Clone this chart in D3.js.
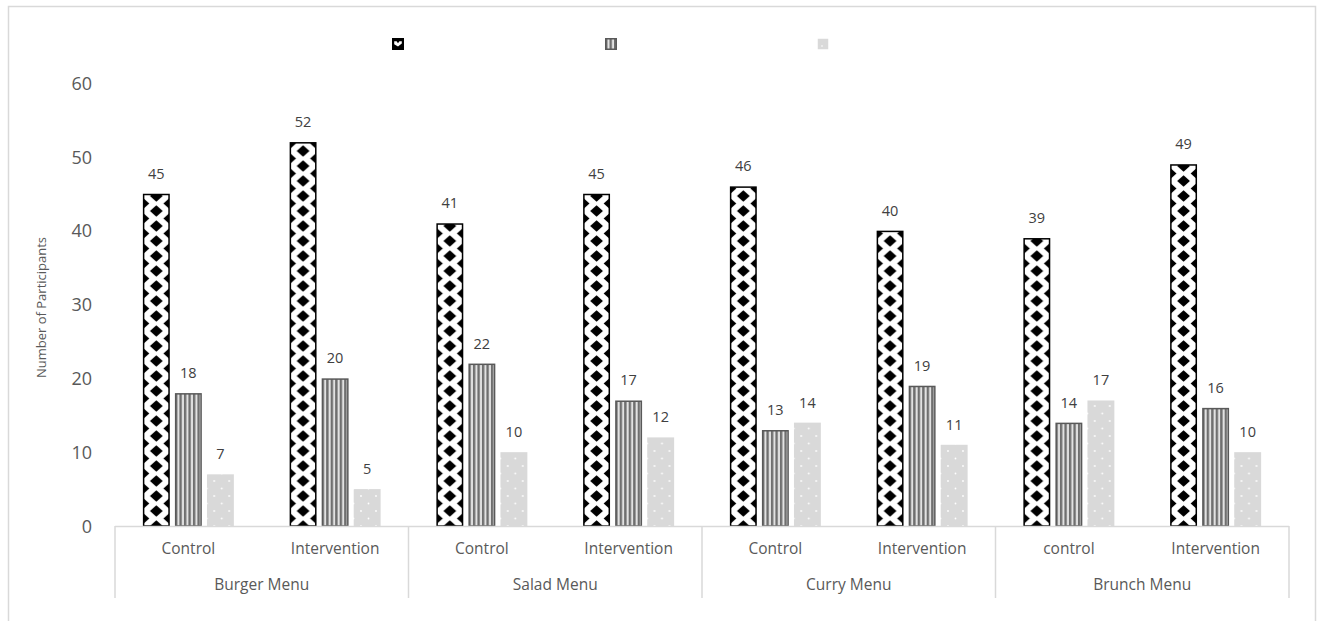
<!DOCTYPE html>
<html>
<head>
<meta charset="utf-8">
<script src="https://cdn.jsdelivr.net/npm/d3@7"></script>
<style>
  html, body { margin: 0; padding: 0; background: #ffffff; }
  svg { display: block; font-family: "Open Sans", "Noto Sans", sans-serif; }
</style>
</head>
<body>
<svg id="chart" width="1322" height="621"></svg>
<script>
// ---- data ----
const menus = ["Burger Menu", "Salad Menu", "Curry Menu", "Brunch Menu"];
const arms = [
  ["Control", "Intervention"],
  ["Control", "Intervention"],
  ["Control", "Intervention"],
  ["control", "Intervention"]
];
const seriesKeys = ["series1", "series2", "series3"];
const series1 = [45, 52, 41, 45, 46, 40, 39, 49];
const series2 = [18, 20, 22, 17, 13, 19, 14, 16];
const series3 = [7, 5, 10, 12, 14, 11, 17, 10];
const yTicks = [0, 10, 20, 30, 40, 50, 60];

// ---- layout ----
const plot = { left: 115, right: 1289, top: 83, bottom: 526 };
const svg = d3.select("#chart");

// flat list of the eight sub-categories
const slots = [];
menus.forEach((m, gi) => arms[gi].forEach((a, ai) => slots.push({ id: gi + "-" + ai, menu: m, arm: a, gi })));
const seriesValues = [series1, series2, series3];

const x0 = d3.scaleBand().domain(slots.map(d => d.id)).range([plot.left, plot.right]).padding(0);
const x1 = d3.scaleBand().domain(seriesKeys).range([0, x0.bandwidth()]).paddingInner(0.16).paddingOuter(0.87);
const xGroup = d3.scaleBand().domain(menus).range([plot.left, plot.right]).padding(0);
const y = d3.scaleLinear().domain([0, 60]).range([plot.bottom, plot.top]);
const bw = x1.bandwidth();

// ---- patterns ----
const defs = svg.append("defs");
function dia(cx, cy, rx, ry) {
  return `M${cx},${cy - ry}L${cx + rx},${cy}L${cx},${cy + ry}L${cx - rx},${cy}Z`;
}

// black diamonds on white, one tile per bar width
const dp = 15;
const diamond = defs.append("pattern").attr("id", "pDiamond")
  .attr("patternUnits", "userSpaceOnUse").attr("width", bw).attr("height", dp)
  .attr("y", plot.bottom);
diamond.append("rect").attr("width", bw).attr("height", dp).attr("fill", "#ffffff");
const drx = 6.4, dry = 5.8;
diamond.append("path").attr("fill", "#000").attr("d",
  dia(bw / 2, 0, drx, dry) + dia(bw / 2, dp, drx, dry) +
  dia(0, dp / 2, drx, dry) + dia(bw, dp / 2, drx, dry));

// vertical stripes
const stripe = defs.append("pattern").attr("id", "pStripe")
  .attr("patternUnits", "userSpaceOnUse").attr("width", 4.5).attr("height", 10);
stripe.append("rect").attr("width", 4.5).attr("height", 10).attr("fill", "#e2e2e2");
stripe.append("rect").attr("width", 2.4).attr("height", 10).attr("fill", "#6f6f6f");

// light grey with sparse white dots
const dots = defs.append("pattern").attr("id", "pDots")
  .attr("patternUnits", "userSpaceOnUse").attr("width", 15).attr("height", 15)
  .attr("x", 7.3).attr("y", plot.bottom);
dots.append("rect").attr("width", 15).attr("height", 15).attr("fill", "#d9d9d9");
[[0, 0], [15, 0], [0, 15], [15, 15], [7.5, 7.5]].forEach(([cx, cy]) =>
  dots.append("circle").attr("cx", cx).attr("cy", cy).attr("r", 0.9).attr("fill", "#ffffff"));

const seriesStyle = {
  series1: { fill: "url(#pDiamond)", stroke: "#000000", sw: 1.5 },
  series2: { fill: "url(#pStripe)", stroke: "#595959", sw: 1.5 },
  series3: { fill: "url(#pDots)", stroke: "none", sw: 0 }
};

// ---- chart frame ----
svg.append("rect").attr("x", 8.5).attr("y", 6.5).attr("width", 1307).attr("height", 640)
  .attr("fill", "none").attr("stroke", "#d9d9d9").attr("stroke-width", 1.5);

// ---- bars ----
const barData = [];
slots.forEach((s, i) => seriesKeys.forEach((k, si) => barData.push({ slot: s, key: k, value: seriesValues[si][i] })));

const barG = svg.append("g").selectAll("g.bar").data(barData).join("g")
  .attr("class", "bar")
  .attr("transform", d => `translate(${x0(d.slot.id) + x1(d.key)},0)`);

barG.append("rect")
  .attr("x", d => seriesStyle[d.key].sw / 2)
  .attr("y", d => y(d.value) + seriesStyle[d.key].sw / 2)
  .attr("width", d => bw - seriesStyle[d.key].sw)
  .attr("height", d => y(0) - y(d.value) - seriesStyle[d.key].sw / 2)
  .attr("fill", d => seriesStyle[d.key].fill)
  .attr("stroke", d => seriesStyle[d.key].stroke)
  .attr("stroke-width", d => seriesStyle[d.key].sw);

// value labels
svg.append("g").selectAll("text").data(barData).join("text")
  .attr("x", d => x0(d.slot.id) + x1(d.key) + bw / 2)
  .attr("y", d => y(d.value) - 15)
  .attr("text-anchor", "middle")
  .attr("font-size", 14.5)
  .attr("fill", "#404040")
  .text(d => d.value);

// ---- y axis (labels only) ----
const yAxis = d3.axisLeft(y).tickValues(yTicks).tickSize(0).tickPadding(0);
const yG = svg.append("g").attr("transform", `translate(92,0)`).call(yAxis);
yG.select(".domain").remove();
yG.selectAll("text").attr("font-size", 18).attr("fill", "#595959")
  .attr("font-family", "\"Open Sans\", sans-serif").attr("dy", "0.35em");

svg.append("text")
  .attr("transform", `translate(46,${(y(0) + y(60)) / 2 + 3}) rotate(-90)`)
  .attr("text-anchor", "middle")
  .attr("font-size", 13)
  .attr("fill", "#595959")
  .text("Number of Participants");

// ---- category axis ----
const axisColor = "#d9d9d9";
svg.append("line").attr("x1", plot.left).attr("x2", plot.right)
  .attr("y1", plot.bottom + 0.5).attr("y2", plot.bottom + 0.5)
  .attr("stroke", axisColor).attr("stroke-width", 1.5);

const sepX = menus.map(m => xGroup(m)).concat([plot.right]);
svg.append("g").selectAll("line").data(sepX).join("line")
  .attr("x1", d => d).attr("x2", d => d)
  .attr("y1", plot.bottom).attr("y2", 598)
  .attr("stroke", axisColor).attr("stroke-width", 1.5);

svg.append("g").selectAll("text").data(slots).join("text")
  .attr("x", d => x0(d.id) + x0.bandwidth() / 2)
  .attr("y", 554)
  .attr("text-anchor", "middle")
  .attr("font-size", 15.5)
  .attr("fill", "#595959")
  .text(d => d.arm);

svg.append("g").selectAll("text").data(menus).join("text")
  .attr("x", d => xGroup(d) + xGroup.bandwidth() / 2)
  .attr("y", 590)
  .attr("text-anchor", "middle")
  .attr("font-size", 15.5)
  .attr("fill", "#595959")
  .text(d => d);

// ---- legend swatches ----
const legendX = [392, 605, 817];
const lg = svg.append("g").selectAll("g").data(seriesKeys).join("g")
  .attr("transform", (d, i) => `translate(${legendX[i]},38)`);
lg.append("rect")
  .attr("x", 0.75).attr("y", 0.75).attr("width", 10.5).attr("height", 10.5)
  .attr("fill", (d, i) => ["#000000", "url(#pStripe)", "#d9d9d9"][i])
  .attr("stroke", (d, i) => ["#000", "#595959", "none"][i])
  .attr("stroke-width", 1.5);
lg.filter((d, i) => i === 0).append("path")
  .attr("d", "M2.2,3.2L4.6,3.2L6,5.2L7.4,3.2L9.8,3.2L9.8,5.4L6,8.6L2.2,6.2Z")
  .attr("fill", "#ffffff");
lg.filter((d, i) => i === 2).append("circle")
  .attr("cx", 5).attr("cy", 8).attr("r", 0.8).attr("fill", "#fff");
</script>
</body>
</html>
